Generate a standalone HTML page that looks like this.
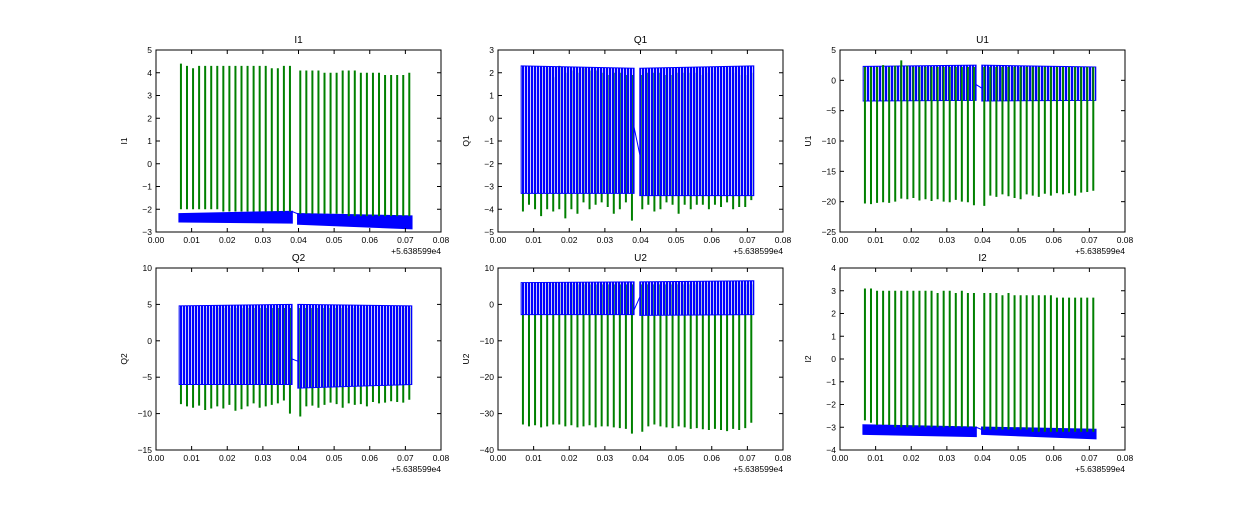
<!DOCTYPE html>
<html><head><meta charset="utf-8">
<style>
body{margin:0;background:#fff;width:1250px;height:500px;overflow:hidden;font-family:"Liberation Sans",sans-serif;}
svg text{font-family:"Liberation Sans",sans-serif;}
</style></head>
<body>
<svg id="fig" width="1250" height="500" xmlns="http://www.w3.org/2000/svg">
<defs>
<pattern id="stripes" width="3" height="6" patternUnits="userSpaceOnUse">
<rect x="0" y="0" width="2.2" height="6" fill="#0000ff"/>
</pattern>
</defs>
</svg>
<script>
// shared x data
const xTicks = [0.00,0.01,0.02,0.03,0.04,0.05,0.06,0.07,0.08];
const xTickLabels = ["0.00","0.01","0.02","0.03","0.04","0.05","0.06","0.07","0.08"];
const spikeT = [0.0070,0.0087,0.0104,0.0121,0.0138,0.0155,0.0172,0.0189,0.0206,0.0223,0.0240,0.0257,0.0274,0.0291,0.0308,0.0325,0.0342,0.0359,0.0376,
                0.0405,0.0422,0.0439,0.0456,0.0473,0.0490,0.0507,0.0524,0.0541,0.0558,0.0575,0.0592,0.0609,0.0626,0.0643,0.0660,0.0677,0.0694,0.0711];
const segT = [0.0065,0.0382,0.0398,0.0718];
// panel names
const titles = ["I1","Q1","U1","Q2","U2","I2"];
// y ranges / ticks
const yTicks = [[-3,-2,-1,0,1,2,3,4,5],[-5,-4,-3,-2,-1,0,1,2,3],[-25,-20,-15,-10,-5,0,5],[-15,-10,-5,0,5,10],[-40,-30,-20,-10,0,10],[-4,-3,-2,-1,0,1,2,3,4]];
// green spike extents per panel
const spikeHi = [
 [4.4,4.3,4.2,4.3,4.3,4.3,4.3,4.3,4.3,4.3,4.3,4.3,4.3,4.3,4.3,4.2,4.2,4.3,4.3, 4.1,4.1,4.1,4.1,4.0,4.0,4.0,4.1,4.1,4.1,4.0,4.0,4.0,4.0,3.9,3.9,3.9,3.9,4.0],
 [2.2,2.1,2.0,2.2,2.2,1.8,2.3,2.0,2.1,2.0,2.2,2.1,2.1,2.0,1.9,2.0,2.0,1.9,1.9, 1.9,2.0,2.0,2.0,1.9,1.9,2.0,2.0,2.0,2.0,1.9,2.0,2.0,2.0,2.0,2.0,1.9,1.9,2.0],
 [2.2,2.2,2.2,2.5,2.2,2.4,3.3,2.4,2.2,2.2,2.2,2.2,2.2,2.2,2.2,2.2,2.2,2.2,2.2, 2.2,2.2,2.2,2.2,2.2,2.2,2.2,2.2,2.2,2.2,2.2,2.2,2.2,2.2,2.2,2.2,2.2,2.2,2.2],
 [4.5,4.5,4.5,4.5,4.5,4.5,4.5,4.5,4.5,4.5,4.5,4.5,4.5,4.5,4.5,4.5,4.5,4.5,4.5, 4.5,4.5,4.5,4.5,4.5,4.5,4.5,4.5,4.5,4.5,4.5,4.5,4.5,4.5,4.5,4.5,4.5,4.5,4.5],
 [5.5,5.5,5.5,5.5,5.5,5.5,5.5,5.5,5.5,5.5,5.5,5.5,5.5,5.5,5.5,5.5,5.5,5.5,5.5, 5.5,5.5,5.5,5.5,5.5,5.5,5.5,5.5,5.5,5.5,5.5,5.5,5.5,5.5,5.5,5.5,5.5,5.5,5.5],
 [3.1,3.1,3.0,3.0,3.0,3.0,3.0,3.0,3.0,3.0,3.0,3.0,2.9,3.0,3.0,2.9,3.0,2.9,2.9, 2.9,2.9,2.9,2.8,2.9,2.8,2.8,2.8,2.8,2.8,2.8,2.8,2.7,2.7,2.7,2.7,2.7,2.7,2.7]];
const spikeLo = [
 [-2.0,-2.0,-2.0,-2.0,-2.0,-2.0,-2.0,-2.1,-2.1,-2.1,-2.1,-2.1,-2.1,-2.1,-2.1,-2.1,-2.1,-2.1,-2.1, -2.2,-2.2,-2.2,-2.2,-2.2,-2.2,-2.2,-2.2,-2.3,-2.3,-2.3,-2.3,-2.3,-2.3,-2.3,-2.3,-2.3,-2.3,-2.3],
 [-4.1,-3.8,-4.0,-4.3,-4.0,-4.1,-4.0,-4.4,-4.0,-4.2,-3.7,-4.0,-3.8,-3.7,-3.9,-4.2,-4.0,-3.7,-4.5, -4.0,-3.8,-4.1,-4.0,-3.7,-3.8,-4.2,-3.8,-4.0,-3.8,-3.8,-4.0,-3.8,-3.9,-3.7,-4.0,-3.9,-3.9,-3.6],
 [-20.3,-20.4,-20.2,-20.1,-20.2,-20.0,-19.5,-19.6,-19.4,-19.8,-19.6,-19.9,-19.6,-20.0,-20.1,-19.7,-20.0,-20.1,-20.6, -20.7,-19.0,-19.2,-18.8,-19.1,-19.4,-19.6,-18.8,-19.0,-19.2,-18.7,-19.0,-18.6,-18.8,-18.6,-19.0,-18.5,-18.4,-18.2],
 [-8.7,-9.0,-9.2,-8.9,-9.5,-9.3,-9.0,-9.3,-8.8,-9.6,-9.4,-9.0,-8.6,-9.2,-9.0,-8.8,-8.6,-8.2,-10.0, -10.4,-9.0,-8.9,-9.2,-8.8,-8.5,-8.7,-9.2,-8.6,-8.8,-8.7,-9.0,-8.4,-8.6,-8.5,-8.3,-8.4,-8.5,-8.1],
 [-33.0,-33.5,-33.2,-33.8,-33.5,-33.0,-33.0,-33.5,-33.2,-33.8,-33.5,-33.2,-33.8,-33.5,-33.5,-33.8,-34.0,-34.2,-35.5, -35.0,-33.5,-33.0,-33.5,-33.8,-34.0,-33.5,-33.8,-34.2,-34.0,-34.3,-34.5,-34.2,-34.5,-34.8,-34.2,-34.5,-34.0,-32.5],
 [-2.7,-2.8,-2.9,-2.9,-2.9,-3.0,-3.0,-3.0,-3.0,-3.0,-3.0,-3.0,-3.0,-3.0,-3.0,-3.0,-3.0,-3.0,-3.0, -3.1,-3.1,-3.1,-3.1,-3.1,-3.1,-3.1,-3.1,-3.2,-3.2,-3.2,-3.2,-3.2,-3.2,-3.2,-3.2,-3.2,-3.2,-3.2]];
// blue band extents at segT
const bandLo = [[-2.55,-2.6,-2.65,-2.85],[-3.3,-3.3,-3.4,-3.4],[-3.4,-3.3,-3.4,-3.3],[-6.0,-6.0,-6.5,-6.0],[-2.8,-2.8,-3.0,-2.8],[-3.3,-3.4,-3.3,-3.5]];
const bandHi = [[-2.2,-2.1,-2.2,-2.3],[2.3,2.2,2.2,2.3],[2.3,2.5,2.5,2.2],[4.8,5.0,5.0,4.8],[6.0,6.2,6.2,6.5],[-2.9,-3.0,-3.0,-3.1]];
const gapY = [[-2.1,-2.2],[-0.4,-1.6],[-0.7,-1.3],[-2.5,-2.8],[-1.5,2.0],[-3.0,-3.1]];
const greenOnTop = [true,false,true,false,false,true];
const stripedBand = [false,true,true,true,true,false];

const NS="http://www.w3.org/2000/svg";
const fig=document.getElementById('fig');
function el(tag,attrs,parent){const e=document.createElementNS(NS,tag);for(const k in attrs)e.setAttribute(k,attrs[k]);(parent||fig).appendChild(e);return e;}
const colsX=[156,498,840], rowsY=[50,268], W=285, H=182;
titles.forEach((t,p)=>{
  const x0=colsX[p%3], y0=rowsY[Math.floor(p/3)];
  const yt=yTicks[p], ymin=yt[0], ymax=yt[yt.length-1];
  const sx=v=>x0+(v-0)/(0.08)*W, sy=v=>y0+H-(v-ymin)/(ymax-ymin)*H;
  const g=el('g',{});  
  const clipId='c'+p; const cp=el('clipPath',{id:clipId},g); el('rect',{x:x0,y:y0,width:W,height:H},cp);
  const plot=el('g',{'clip-path':'url(#'+clipId+')'},g);
  function drawBlue(){
    const bg=el('g',{},plot);  
    const striped=stripedBand[p];
    for(let s=0;s<2;s++){const a=s*2,b=s*2+1;
      el('polygon',{points:`${sx(segT[a])},${sy(bandLo[p][a])} ${sx(segT[b])},${sy(bandLo[p][b])} ${sx(segT[b])},${sy(bandHi[p][b])} ${sx(segT[a])},${sy(bandHi[p][a])}`,
        fill:striped?'url(#stripes)':'#0000ff',stroke:'#0000ff','stroke-width':striped?1:1.5},bg);}
    el('line',{x1:sx(segT[1]),y1:sy(gapY[p][0]),x2:sx(segT[2]),y2:sy(gapY[p][1]),stroke:'#0000ff','stroke-width':1},bg);
  }
  function drawGreen(){
    const gg=el('g',{},plot);  
    spikeT.forEach((tt,i)=>{const l=el('line',{x1:sx(tt),x2:sx(tt),y1:sy(spikeLo[p][i]),y2:sy(spikeHi[p][i]),stroke:'#008000','stroke-width':2},gg);
       });
  }
  if(greenOnTop[p]){drawBlue();drawGreen();}else{drawGreen();drawBlue();}
  const fr=el('rect',{x:x0,y:y0,width:W,height:H,fill:'none',stroke:'#000','stroke-width':1},g);
   
  xTicks.forEach((v,i)=>{const x=sx(v);
    el('line',{x1:x,x2:x,y1:y0+H,y2:y0+H-4,stroke:'#000'},g);el('line',{x1:x,x2:x,y1:y0,y2:y0+4,stroke:'#000'},g);
    const tx=el('text',{x:x,y:y0+H+11,'font-size':8.5,'text-anchor':'middle'},g);tx.textContent=xTickLabels[i];
     });
  yt.forEach(v=>{const y=sy(v);
    el('line',{x1:x0,x2:x0+4,y1:y,y2:y,stroke:'#000'},g);el('line',{x1:x0+W,x2:x0+W-4,y1:y,y2:y,stroke:'#000'},g);
    const tx=el('text',{x:x0-4,y:y+3,'font-size':8.5,'text-anchor':'end'},g);tx.textContent=(v<0?'\u2212'+(-v):''+v);
     });
  const off=el('text',{x:x0+W,y:y0+H+22,'font-size':8.5,'text-anchor':'end'},g);off.textContent='+5.638599e4';
   
  const ti=el('text',{x:x0+W/2,y:y0-7,'font-size':10,'text-anchor':'middle'},g);ti.textContent=t;
   
  const yl=el('text',{x:0,y:0,'font-size':8.5,'text-anchor':'middle',transform:`translate(${x0-29},${y0+H/2}) rotate(-90)`},g);yl.textContent=t;
   
});
</script>
</body></html>
